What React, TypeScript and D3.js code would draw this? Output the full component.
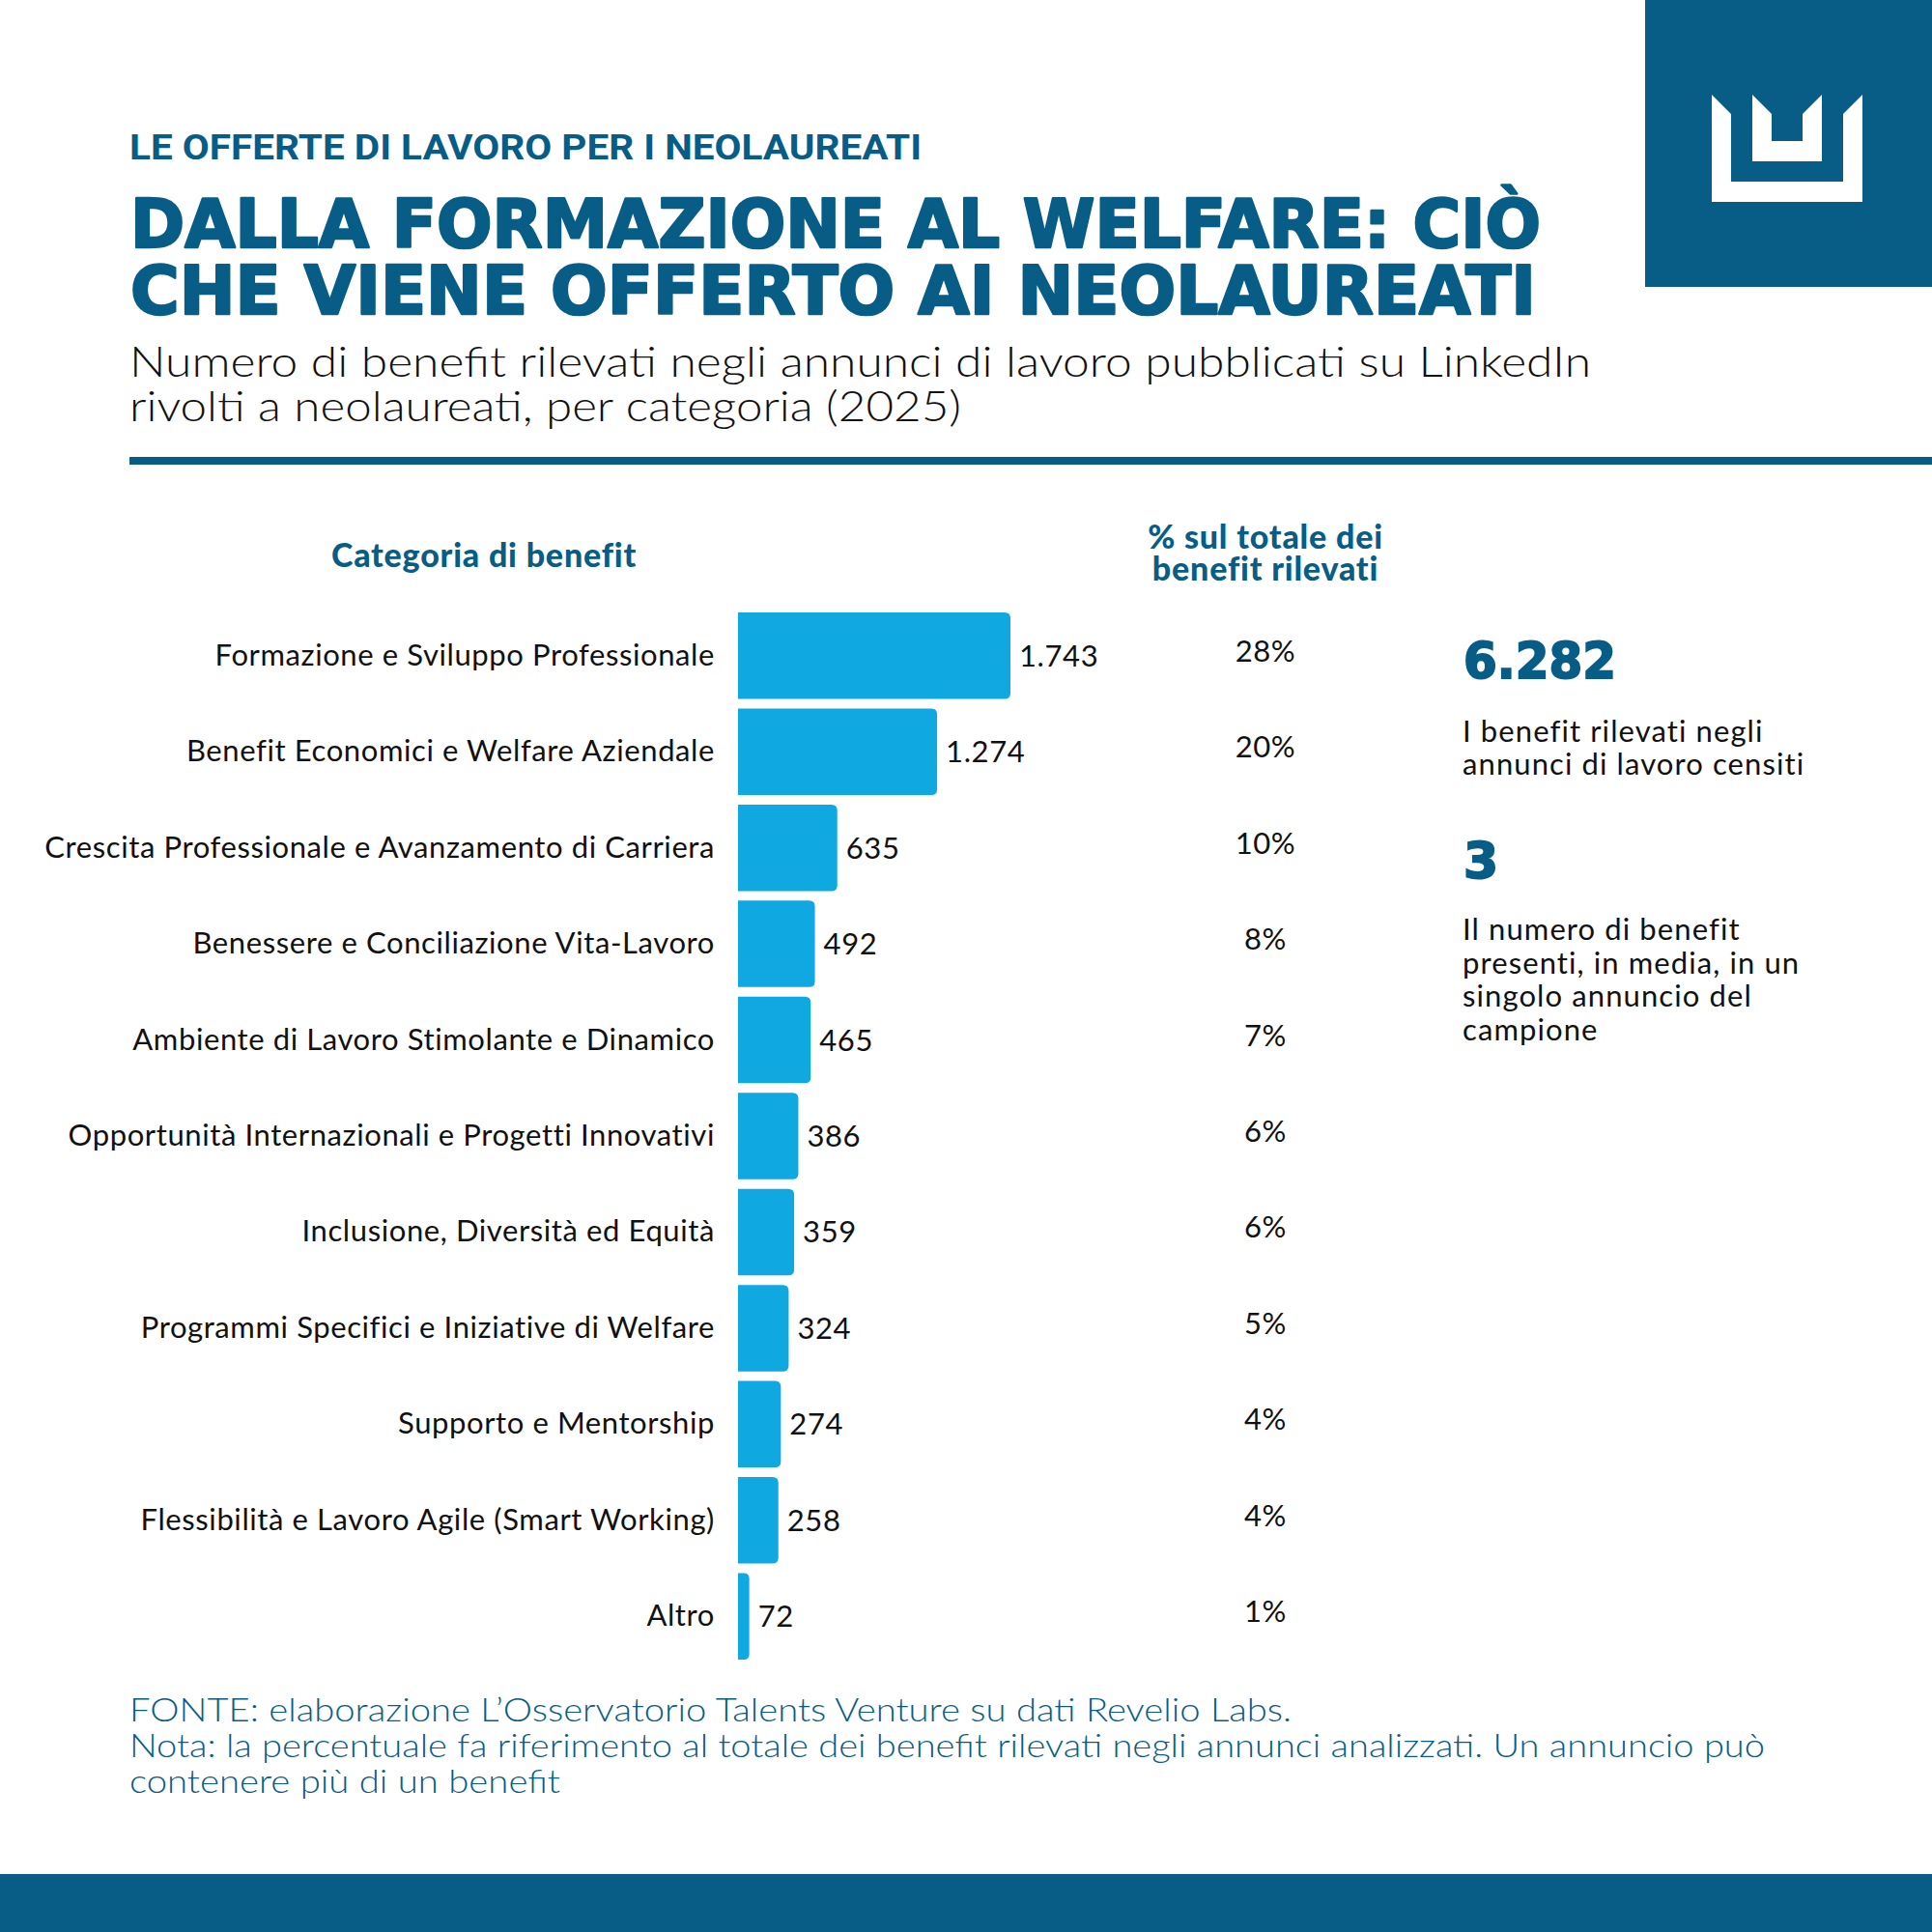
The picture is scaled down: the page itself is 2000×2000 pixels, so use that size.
import { scaleBand, scaleLinear, formatLocale } from 'd3'

const categories = [
  'Formazione e Sviluppo Professionale',
  'Benefit Economici e Welfare Aziendale',
  'Crescita Professionale e Avanzamento di Carriera',
  'Benessere e Conciliazione Vita-Lavoro',
  'Ambiente di Lavoro Stimolante e Dinamico',
  'Opportunità Internazionali e Progetti Innovativi',
  'Inclusione, Diversità ed Equità',
  'Programmi Specifici e Iniziative di Welfare',
  'Supporto e Mentorship',
  'Flessibilità e Lavoro Agile (Smart Working)',
  'Altro',
];
const values = [1743, 1274, 635, 492, 465, 386, 359, 324, 274, 258, 72];
const shares = [28, 20, 10, 8, 7, 6, 6, 5, 4, 4, 1];

const totalBenefits = 6282;
const avgPerAd = 3;

const DARK = '#075d86';
const BAR = '#10a8e0';
const INK = '#111111';
const BODY = 'Lato, "Noto Sans", sans-serif';
const HEAVY = '"DejaVu Sans", sans-serif';

const it = formatLocale({ decimal: ',', thousands: '.', grouping: [3], currency: ['€', ''] });
const fmt = it.format(',d');

// bar with rounded right end
function barPath(x0: number, y0: number, w: number, h: number, r: number) {
  const rr = Math.min(r, w / 2, h / 2);
  return `M${x0},${y0}H${x0 + w - rr}Q${x0 + w},${y0} ${x0 + w},${y0 + rr}` +
    `V${y0 + h - rr}Q${x0 + w},${y0 + h} ${x0 + w - rr},${y0 + h}H${x0}Z`;
}

function App() {
  const width = 2000;
  const height = 2000;

  const barLeft = 764;
  const x = scaleLinear().domain([0, 1743]).range([barLeft, 1046]);
  const y = scaleBand<string>()
    .domain(categories)
    .range([629, 1723])
    .paddingInner(0.1)
    .paddingOuter(0.05);

  const pctX = 1310;

  return (
    <div>
      <svg width={width} height={height} style={{ position: 'absolute', left: 0, top: 0 }}>
        <rect width={width} height={height} fill="#ffffff" />

        {/* logo block */}
        <rect x={1703} y={0} width={297} height={297} fill={DARK} />
        <path
          d="M1772,98L1792,118V188H1908V118L1928,98V209H1772Z"
          fill="#ffffff"
        />
        <path
          d="M1814,98L1834,118V146H1866V118L1886,98V167H1814Z"
          fill="#ffffff"
        />

        {/* headings */}
        <text x={134} y={165} fill={DARK} fontFamily={'"Roboto", sans-serif'} fontWeight={700}
          fontSize={36} textLength={820} lengthAdjust="spacingAndGlyphs">
          LE OFFERTE DI LAVORO PER I NEOLAUREATI
        </text>
        <g fill={DARK} stroke={DARK} strokeWidth={2.5} strokeLinejoin="round"
          fontFamily={HEAVY} fontWeight={700} fontSize={70}>
          <text x={135} y={256} textLength={1460} lengthAdjust="spacingAndGlyphs">
            DALLA FORMAZIONE AL WELFARE: CIÒ
          </text>
          <text x={135} y={325} textLength={1455} lengthAdjust="spacingAndGlyphs">
            CHE VIENE OFFERTO AI NEOLAUREATI
          </text>
        </g>
        <text x={134} y={390} fill={INK} fontFamily={BODY} fontWeight={300} fontSize={44}
          textLength={1513} lengthAdjust="spacingAndGlyphs">
          Numero di benefit rilevati negli annunci di lavoro pubblicati su LinkedIn
        </text>
        <text x={134} y={436} fill={INK} fontFamily={BODY} fontWeight={300} fontSize={44}
          textLength={861} lengthAdjust="spacingAndGlyphs">
          rivolti a neolaureati, per categoria (2025)
        </text>
        <rect x={134} y={473} width={1866} height={8} fill={DARK} />

        {/* column headers */}
        <text x={501} y={587} textAnchor="middle" fill={DARK} fontFamily={BODY}
          fontWeight={900} fontSize={34} letterSpacing={0.8}>
          Categoria di benefit
        </text>
        <text x={pctX} y={568} textAnchor="middle" fill={DARK} fontFamily={BODY}
          fontWeight={900} fontSize={34} letterSpacing={0.8}>
          % sul totale dei
        </text>
        <text x={pctX} y={601} textAnchor="middle" fill={DARK} fontFamily={BODY}
          fontWeight={900} fontSize={34} letterSpacing={0.8}>
          benefit rilevati
        </text>

        {/* bars */}
        {categories.map((c, i) => {
          const y0 = y(c) as number;
          const bh = y.bandwidth();
          const cy = y0 + bh / 2;
          return (
            <g key={c}>
              <text x={740} y={cy + 10} textAnchor="end" fill={INK} fontFamily={BODY}
                fontSize={31} letterSpacing={0.6}>
                {c}
              </text>
              <path d={barPath(barLeft, y0, x(values[i]) - barLeft, bh, 6)} fill={BAR} />
              <text x={x(values[i]) + 9} y={cy + 11} fill={INK} fontFamily={BODY} fontSize={31}
                letterSpacing={0.6}>
                {fmt(values[i])}
              </text>
              <text x={pctX} y={cy + 6} textAnchor="middle" fill={INK} fontFamily={BODY} fontSize={31}
                letterSpacing={0.6}>
                {shares[i]}%
              </text>
            </g>
          );
        })}

        {/* key figures */}
        <text x={1515} y={702} fill={DARK} stroke={DARK} strokeWidth={2} fontFamily={HEAVY}
          fontWeight={700} fontSize={52} textLength={158} lengthAdjust="spacingAndGlyphs">
          {fmt(totalBenefits)}
        </text>
        <text fill={INK} fontFamily={BODY} fontSize={31} letterSpacing={1.1}>
          <tspan x={1514} y={768}>I benefit rilevati negli</tspan>
          <tspan x={1514} y={802}>annunci di lavoro censiti</tspan>
        </text>
        <text x={1515} y={909} fill={DARK} stroke={DARK} strokeWidth={2} fontFamily={HEAVY}
          fontWeight={700} fontSize={52}>
          {avgPerAd}
        </text>
        <text fill={INK} fontFamily={BODY} fontSize={31} letterSpacing={1.1}>
          <tspan x={1514} y={973}>Il numero di benefit</tspan>
          <tspan x={1514} y={1008}>presenti, in media, in un</tspan>
          <tspan x={1514} y={1042}>singolo annuncio del</tspan>
          <tspan x={1514} y={1077}>campione</tspan>
        </text>

        {/* notes */}
        <g fill={DARK} fontFamily={BODY} fontWeight={300} fontSize={34}>
          <text x={134} y={1782} textLength={1203} lengthAdjust="spacingAndGlyphs">
            FONTE: elaborazione L’Osservatorio Talents Venture su dati Revelio Labs.
          </text>
          <text x={134} y={1819} textLength={1693} lengthAdjust="spacingAndGlyphs">
            Nota: la percentuale fa riferimento al totale dei benefit rilevati negli annunci analizzati. Un annuncio può
          </text>
          <text x={134} y={1856} textLength={446} lengthAdjust="spacingAndGlyphs">
            contenere più di un benefit
          </text>
        </g>

        <rect x={0} y={1940} width={width} height={60} fill={DARK} />
      </svg>
    </div>
  );
}

export default App;
